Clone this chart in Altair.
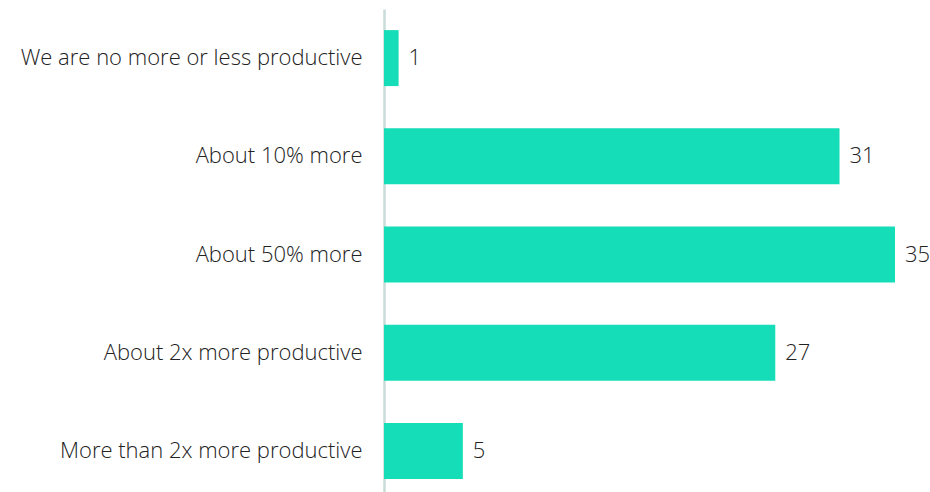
import altair as alt
import pandas as pd

categories = [
    "We are no more or less productive",
    "About 10% more",
    "About 50% more",
    "About 2x more productive",
    "More than 2x more productive",
]
values = [1.0, 31.2, 35.0, 26.8, 5.4]
labels = ["1", "31", "35", "27", "5"]

df = pd.DataFrame({"category": categories, "value": values, "label": labels})

FONT = "Open Sans"
BAR = "#15DDB8"

y_enc = alt.Y(
    "category:N",
    sort=categories,
    scale=alt.Scale(paddingInner=0.43, paddingOuter=0.215),
    axis=alt.Axis(
        title=None,
        ticks=False,
        domain=True,
        domainColor="#C9DCDA",
        domainWidth=2.5,
        labelFont=FONT,
        labelFontSize=22,
        labelFontWeight=300,
        labelColor="#222222",
        labelPadding=22,
        labelLimit=400,
    ),
)
x_enc = alt.X(
    "value:Q",
    scale=alt.Scale(domain=[0, 35], nice=False),
    axis=None,
)

bars = alt.Chart(df).mark_bar(color=BAR).encode(y=y_enc, x=x_enc)
text = alt.Chart(df).mark_text(
    align="left", baseline="middle", dx=10, font=FONT, fontSize=22,
    fontWeight=300, color="#222222"
).encode(y=alt.Y("category:N", sort=categories), x="value:Q", text="label:N")

chart = (
    (bars + text)
    .properties(
        width=511,
        height=491,
        autosize=alt.AutoSizeParams(type="none"),
        padding={"left": 384, "top": 9, "right": 35, "bottom": 0},
    )
    .configure_view(stroke=None)
)

chart.save("out.html", embed_options={"renderer": "svg", "actions": False})
